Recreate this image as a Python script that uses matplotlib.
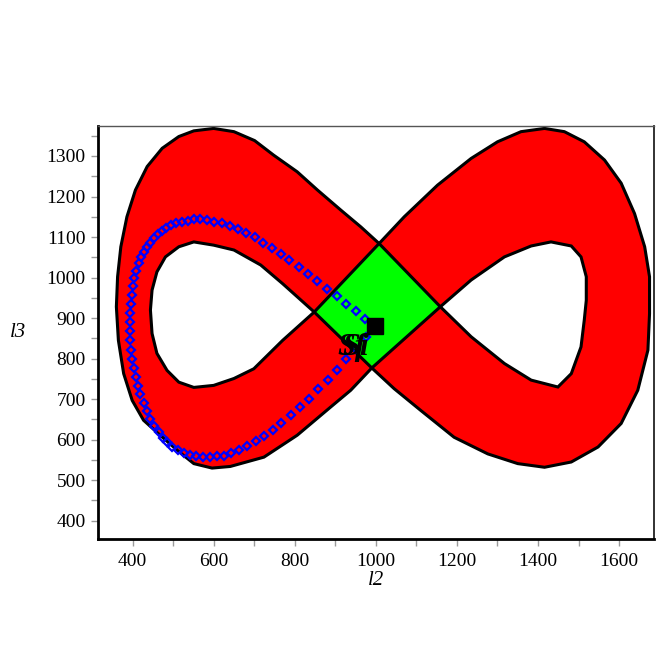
import matplotlib
matplotlib.use("Agg")
import matplotlib.pyplot as plt
from matplotlib.ticker import MultipleLocator

# ---- data ----
outer_left_x = [1008, 963, 913, 856, 806, 748, 701, 650, 600, 551, 514, 473, 436, 407, 386, 371,
                363, 360, 365, 378, 399, 427, 468, 510, 551, 596, 641, 724, 806, 889, 938, 990]
outer_left_y = [1084, 1125, 1167, 1216, 1261, 1302, 1338, 1360, 1368, 1362, 1348, 1319, 1274, 1216,
                1150, 1076, 1002, 928, 845, 763, 697, 648, 611, 574, 541, 530, 534, 557, 611, 681, 722, 777]
outer_right_x = [990, 1045, 1111, 1193, 1276, 1350, 1416, 1482, 1548, 1605, 1646, 1671, 1675, 1675,
                 1663, 1638, 1605, 1564, 1514, 1465, 1416, 1358, 1300, 1235, 1152, 1070, 1008]
outer_right_y = [777, 726, 672, 606, 565, 541, 532, 545, 582, 640, 722, 821, 911, 1002,
                 1076, 1158, 1233, 1290, 1335, 1360, 1368, 1360, 1335, 1294, 1228, 1150, 1084]
hole_left_x = [848, 770, 716, 650, 600, 551, 514, 481, 460, 448, 444, 448, 460, 485, 514, 551,
               600, 650, 699, 770, 848]
hole_left_y = [915, 985, 1031, 1068, 1080, 1088, 1076, 1051, 1014, 969, 920, 862, 813, 771, 742, 729,
               734, 751, 775, 845, 915]
hole_right_x = [1159, 1235, 1317, 1383, 1432, 1482, 1506, 1519, 1519, 1514, 1506, 1482, 1449, 1383,
                1317, 1235, 1159]
hole_right_y = [928, 994, 1051, 1078, 1088, 1078, 1051, 1002, 944, 895, 829, 763, 730, 747,
                788, 854, 928]
diamond_x = [848, 1008, 1159, 990]
diamond_y = [915, 1084, 928, 777]

path_x = [973, 950, 926, 903, 879, 856, 832, 810, 787, 765, 743, 721, 701, 680, 660, 640, 621, 602,
          584, 567, 551, 536, 522, 508, 495, 483, 473, 462, 452, 444, 436, 429, 421, 415, 409, 404,
          401, 399, 397, 394, 393, 393, 394, 396, 399, 403, 408, 413, 419, 427, 436, 444, 454, 464,
          475, 485, 497, 511, 526, 541, 557, 574, 592, 609, 625, 643, 662, 683, 704, 725, 746, 767,
          790, 812, 835, 858, 881, 903, 927, 952, 975]
path_y = [899, 918, 936, 954, 973, 992, 1008, 1027, 1043, 1058, 1072, 1086, 1099, 1109, 1119, 1127,
          1134, 1138, 1142, 1144, 1144, 1140, 1138, 1134, 1130, 1123, 1115, 1107, 1097, 1086, 1076,
          1064, 1050, 1035, 1017, 998, 979, 958, 936, 913, 891, 868, 845, 822, 800, 777, 755, 732,
          712, 690, 671, 652, 635, 619, 605, 594, 583, 575, 568, 563, 559, 557, 557, 559, 561, 567,
          575, 585, 597, 609, 625, 642, 660, 680, 701, 724, 748, 773, 798, 825, 853]
square_x, square_y = 998, 881
labels = ["Sf", "Si"]
label_x = [905, 918]
label_y = [808, 808]
xticks = [400, 600, 800, 1000, 1200, 1400, 1600]
yticks = [400, 500, 600, 700, 800, 900, 1000, 1100, 1200, 1300]

# ---- figure ----
plt.rcParams['font.family'] = ['Liberation Serif', 'DejaVu Serif']
fig = plt.figure(figsize=(6.64, 6.64), dpi=100)
ax = fig.add_axes([98/664, 1-539/664, (654-98)/664, (539-126)/664])

outer_x = outer_left_x + outer_right_x[1:]
outer_y = outer_left_y + outer_right_y[1:]
ax.fill(outer_x, outer_y, facecolor='#ff0000', edgecolor='black', lw=2.2, zorder=2)
ax.fill(hole_left_x, hole_left_y, facecolor='white', edgecolor='black', lw=2.2, zorder=3)
ax.fill(hole_right_x, hole_right_y, facecolor='white', edgecolor='black', lw=2.2, zorder=3)
ax.fill(diamond_x, diamond_y, facecolor='#00ff00', edgecolor='black', lw=2.2, zorder=4)

ax.plot(path_x, path_y, linestyle='none', marker='D', markersize=4, markerfacecolor='none',
        markeredgecolor='#0000ff', markeredgewidth=1.6, zorder=5)
ax.plot([square_x], [square_y], marker='s', markersize=11.5, color='black', linestyle='none', zorder=6)
for t, lx, ly in zip(labels, label_x, label_y):
    ax.text(lx, ly, t, fontsize=23, fontweight='bold', fontstyle='italic', ha='left',
            va='baseline', color='black', zorder=7)

ax.set_xlim(314.7, 1686)
ax.set_ylim(355, 1374)
ax.set_xticks(xticks)
ax.set_yticks(yticks)
ax.xaxis.set_minor_locator(MultipleLocator(100))
ax.yaxis.set_minor_locator(MultipleLocator(50))
ax.tick_params(which='both', direction='out', length=5, width=1, color='#9a9a9a',
               labelsize=14, pad=4)
ax.tick_params(axis='x', which='both', pad=5)
for s in ['left', 'bottom']:
    ax.spines[s].set_linewidth(2)
    ax.spines[s].set_color('black')
ax.spines['top'].set_linewidth(1)
ax.spines['top'].set_color('#555555')
ax.spines['right'].set_linewidth(1.3)
ax.spines['right'].set_color('#222222')

ax.set_xlabel('l2', fontsize=15, fontstyle='italic', labelpad=1)
ax.set_ylabel('l3', fontsize=15, fontstyle='italic', rotation=0, labelpad=20, va='center')

fig.savefig('out.png', dpi=100)
